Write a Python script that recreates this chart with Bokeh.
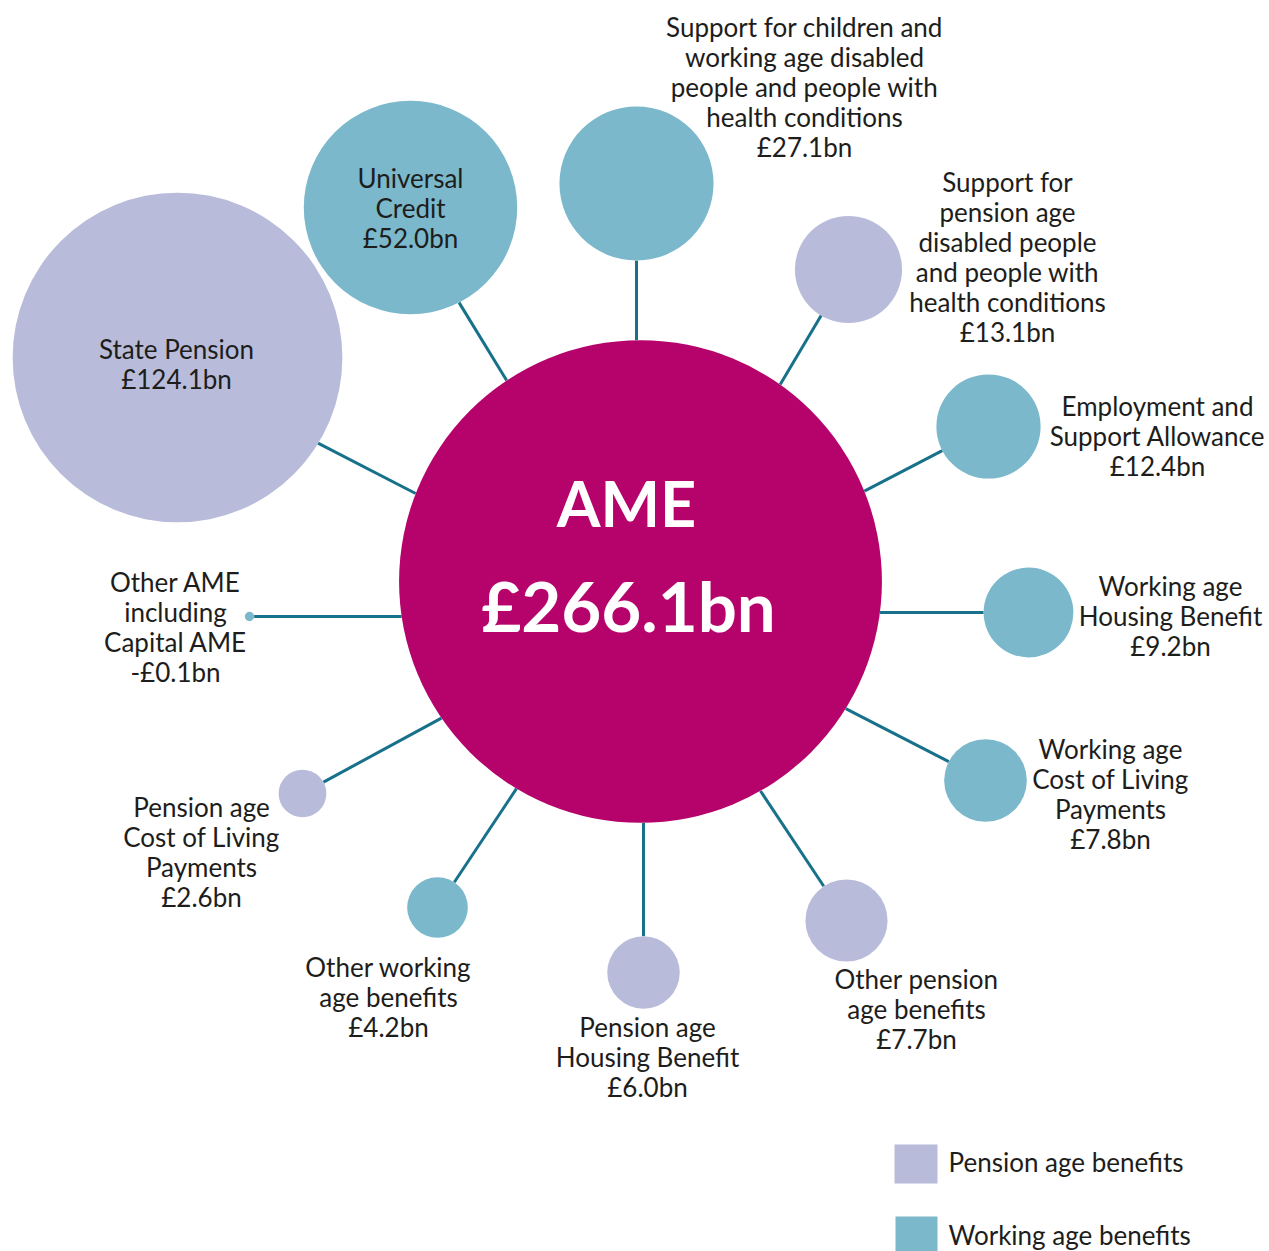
import math
from bokeh.plotting import figure
from bokeh.models import Range1d, ColumnDataSource
from bokeh.core.properties import value
from bokeh.embed import file_html
from bokeh.resources import INLINE

# ---------------- data ----------------
total_name = "AME"
total_value = 266.1

categories = [
    "State Pension",
    "Universal\nCredit",
    "Support for children and\nworking age disabled\npeople and people with\nhealth conditions",
    "Support for\npension age\ndisabled people\nand people with\nhealth conditions",
    "Employment and\nSupport Allowance",
    "Working age\nHousing Benefit",
    "Working age\nCost of Living\nPayments",
    "Other pension\nage benefits",
    "Pension age\nHousing Benefit",
    "Other working\nage benefits",
    "Pension age\nCost of Living\nPayments",
    "Other AME\nincluding\nCapital AME",
]
values = [124.1, 52.0, 27.1, 13.1, 12.4, 9.2, 7.8, 7.7, 6.0, 4.2, 2.6, -0.1]
groups = ["Pension", "Working", "Working", "Pension", "Working", "Working",
          "Working", "Pension", "Pension", "Working", "Pension", "Other"]
legend_labels = ["Pension age benefits", "Working age benefits"]

# ---------------- layout (pixel positions) ----------------
W, H = 1269, 1251
centre = (640, 581)
bubble_cx = [177, 410, 636, 848, 988, 1028, 985, 846, 643, 437, 302, 249]
bubble_cy = [357, 207, 183, 269, 426, 612, 780, 920, 972, 907, 793, 616]
link_deg = [27.3, 58.6, 90, 120.7, 152.5, 180, 207.2, 236.4, 270, 303.6, 331.5, 0]
link_shift = [(-6, 10), (-7, 4), (0, 0), (0, 0), (0, 0), (0, 0),
              (0, 0), (0, 0), (0, 0), (0, 0), (0, 0), (0, 0)]
label_x = [176, 410, 804, 1007, 1157, 1170, 1110, 916, 647, 388, 201, 175]
label_y = [348, 177, 26, 181, 405, 585, 748, 978, 1026, 966, 806, 581]
line_step = 30
area_scale = 14.8  # px per sqrt(bn)

colors = {"Pension": "#B8BCDA", "Working": "#7BB8CB", "Other": "#7BB8CB"}
ame_color = "#B5036B"
link_color = "#17718A"
text_color = "#1d1d1b"
FONT = "Lato"

p = figure(width=W, height=H, output_backend="svg", toolbar_location=None,
           x_range=Range1d(0, W), y_range=Range1d(H, 0),
           min_border=0, min_border_left=0, min_border_right=0,
           min_border_top=0, min_border_bottom=0)
p.axis.visible = False
p.grid.visible = False
p.outline_line_color = None
p.background_fill_color = "white"
p.border_fill_color = "white"

X0, Y0 = centre
R0 = area_scale * math.sqrt(total_value)

# connectors
x0s, y0s, x1s, y1s = [], [], [], []
radii = []
for i, v in enumerate(values):
    r = area_scale * math.sqrt(abs(v))
    radii.append(r)
    th = math.radians(link_deg[i])
    dx, dy = math.cos(th), math.sin(th)
    sx = bubble_cx[i] + r * dx + link_shift[i][0]
    sy = bubble_cy[i] + r * dy + link_shift[i][1]
    px, py = sx - X0, sy - Y0
    b = px * dx + py * dy
    c = px * px + py * py - R0 * R0
    t = -b - math.sqrt(max(b * b - c, 0))
    x0s.append(sx); y0s.append(sy)
    x1s.append(sx + t * dx); y1s.append(sy + t * dy)

p.segment(x0=x0s, y0=y0s, x1=x1s, y1=y1s, line_color=link_color, line_width=3)

# bubbles
bsrc = ColumnDataSource(dict(x=bubble_cx, y=bubble_cy, r=radii,
                             c=[colors[g] for g in groups]))
p.circle(x="x", y="y", radius="r", fill_color="c", line_color=None, source=bsrc)

# central circle
p.circle(x=[X0], y=[Y0], radius=[R0], fill_color=ame_color, line_color=None)
p.text(x=[X0 - 14], y=[502], text=[total_name],
       text_font=value(FONT), text_font_style="bold", text_color="white",
       text_font_size="63px", text_align="center", text_baseline="middle")
p.text(x=[X0 - 12], y=[605], text=["£%.1fbn" % total_value],
       text_font=value(FONT), text_font_style="bold", text_color="white",
       text_font_size="69px", text_align="center", text_baseline="middle")

# labels
tx, ty, tt = [], [], []
for i, (cat, v) in enumerate(zip(categories, values)):
    vs = ("-£%.1fbn" % abs(v)) if v < 0 else ("£%.1fbn" % v)
    lines = cat.split("\n") + [vs]
    for j, ln in enumerate(lines):
        tx.append(label_x[i]); ty.append(label_y[i] + j * line_step); tt.append(ln)
p.text(x="x", y="y", text="t", source=ColumnDataSource(dict(x=tx, y=ty, t=tt)),
       text_font=value(FONT), text_font_size="26px", text_color=text_color,
       text_align="center", text_baseline="middle")

# legend
leg_y = [1161, 1234]
p.quad(left=[894, 895], right=[937, 937], top=[1144, 1216], bottom=[1183, 1256],
       fill_color=[colors["Pension"], colors["Working"]], line_color=None)
p.text(x=[948, 948], y=leg_y, text=legend_labels, text_font=value(FONT),
       text_font_size="26px", text_color=text_color, text_align="left",
       text_baseline="middle")

open("out.html", "w").write(file_html(p, INLINE))
